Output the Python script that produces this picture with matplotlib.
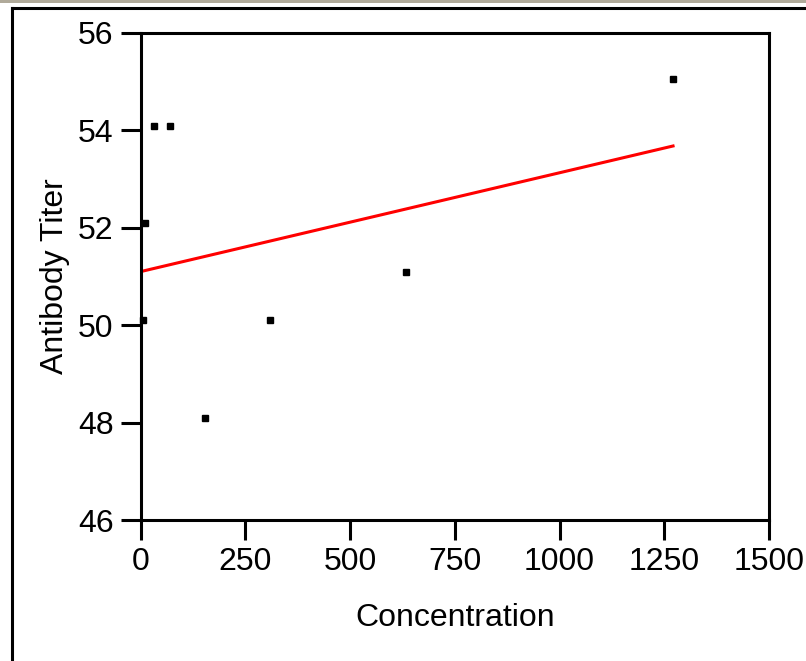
import matplotlib
matplotlib.use("Agg")
import matplotlib.pyplot as plt
from matplotlib.lines import Line2D
from matplotlib.patches import Rectangle

# values
conc = [6, 11, 32, 70, 154, 309, 634, 1271]
titer = [50.1, 52.1, 54.1, 54.1, 48.1, 50.1, 51.1, 55.06]
fit_x = [0, 1271]
fit_y = [51.1, 53.68]
xticks = [0, 250, 500, 750, 1000, 1250, 1500]
yticks = [46, 48, 50, 52, 54, 56]

plt.rcParams['font.family'] = ['Liberation Sans', 'DejaVu Sans']

fig = plt.figure(figsize=(8.06, 6.61), dpi=100)
ax = fig.add_axes([140.5 / 806, 1 - 520 / 661, (769 - 140.5) / 806, (520 - 33) / 661])

ax.plot(conc, titer, linestyle='none', marker='s', markersize=4.3,
        color='black', clip_on=False, zorder=3)
ax.plot(fit_x, fit_y, color='#ff0000', linewidth=2.2, zorder=2)

ax.set_xlim(0, 1500)
ax.set_ylim(46, 56)
ax.set_xticks(xticks)
ax.set_yticks(yticks)
ax.tick_params(direction='out', length=14.5, width=2.2, labelsize=23, pad=5, color='black')
for s in ax.spines.values():
    s.set_linewidth(2.2)

ax.set_xlabel('Concentration', fontsize=23, labelpad=19)
ax.set_ylabel('Antibody Titer', fontsize=23)
ax.yaxis.set_label_coords(-71 / 628.5, 0.5)

# window frame bits around the figure
fig.add_artist(Rectangle((0, 1 - 3 / 661), 1, 3 / 661, transform=fig.transFigure,
                         facecolor='#b0aa9a', edgecolor='none'))
fig.add_artist(Line2D([11.5 / 806, 1], [1 - 7.5 / 661, 1 - 7.5 / 661],
                      transform=fig.transFigure, color='black', linewidth=2.2))
fig.add_artist(Line2D([11.5 / 806, 11.5 / 806], [0, 1 - 7.5 / 661],
                      transform=fig.transFigure, color='black', linewidth=2.2))

fig.savefig('out.png', dpi=100)
